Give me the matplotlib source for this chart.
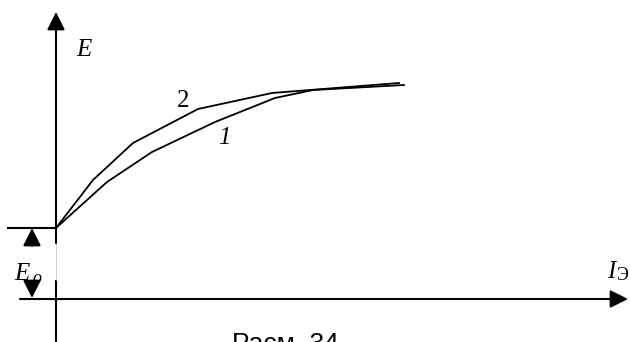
import matplotlib
matplotlib.use("Agg")
import matplotlib.pyplot as plt

# curve data (I, E), origin at the axes crossing
E0 = 71
I_2 = [0, 37, 77, 142, 216, 343]
E_2 = [E0, 119, 156, 190, 206, 216]
I_1 = [0, 51, 96, 159, 219, 257, 348]
E_1 = [E0, 117, 147, 177, 201, 209, 214]

serif = "Liberation Serif"

fig = plt.figure(figsize=(6.3, 3.42), dpi=100)
ax = fig.add_axes([0, 0, 1, 1])
ax.set_xlim(-56, 574)
ax.set_ylim(-43, 299)
ax.axis("off")

lw_ax = 1.5
arr = dict(arrowstyle="-|>,head_length=1.08,head_width=0.54", color="black",
           lw=lw_ax, shrinkA=0, shrinkB=0, mutation_scale=10)

# axes with arrows
ax.annotate("", xy=(572, 0), xytext=(-36, 0), arrowprops=arr)
ax.annotate("", xy=(0, 287), xytext=(0, 56), arrowprops=arr)
ax.plot([0, 0], [-43, 19], color="black", lw=lw_ax, solid_capstyle="butt")
ax.plot([0, 0], [19, 56], color="#bbbbbb", lw=0.5)

# E0 level and dimension arrows
ax.plot([-48, 0], [E0, E0], color="black", lw=lw_ax)
ax.annotate("", xy=(-24, E0), xytext=(-24, 53), arrowprops=arr)
ax.annotate("", xy=(-24, 1), xytext=(-24, 15), arrowprops=arr)

# curves
ax.plot(I_1, E_1, color="black", lw=1.3)
ax.plot(I_2, E_2, color="black", lw=1.3)

# labels
ax.text(20, 243, "E", fontsize=18, family=serif, style="italic", va="baseline")
ax.text(121, 192, "2", fontsize=18, family=serif, va="baseline")
ax.text(162, 155, "1", fontsize=18, family=serif, style="italic", va="baseline")
ax.text(-42, 19, "E", fontsize=18, family=serif, style="italic", va="baseline")
ax.text(-24, 16, "o", fontsize=13, family=serif, style="italic", va="baseline")
ax.text(551, 21, "I", fontsize=18, family=serif, style="italic", va="baseline")
ax.text(561, 19, "Э", fontsize=13, family=serif, va="baseline")
# caption is cut by the lower edge, as in the source scan
ax.text(176, -52, "Расм. 34", fontsize=19, family="Liberation Sans",
        va="baseline", clip_on=False)

fig.savefig("out.png", dpi=100)
